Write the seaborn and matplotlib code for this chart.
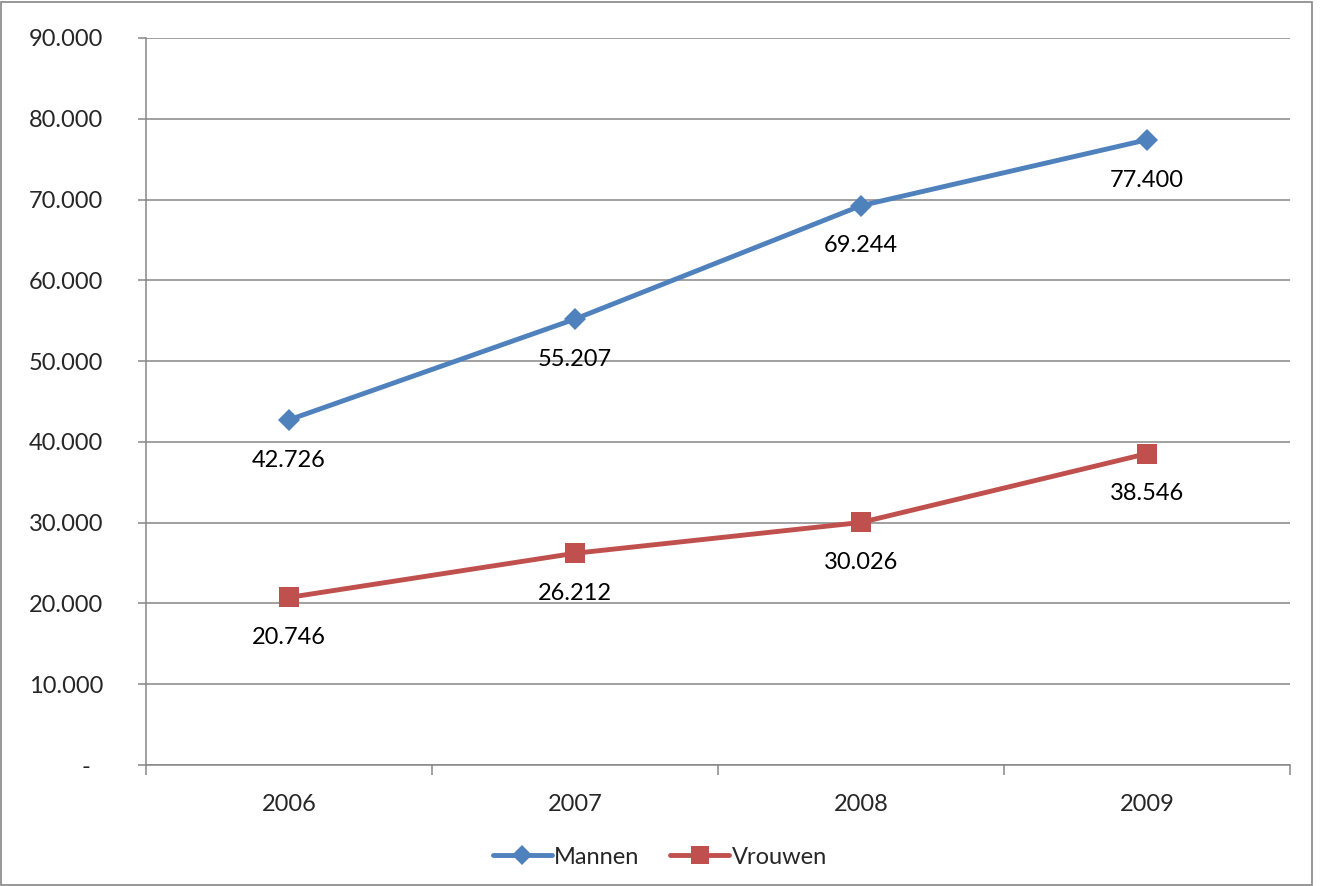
import matplotlib
matplotlib.use('Agg')
import matplotlib.pyplot as plt
import seaborn as sns
import pandas as pd
from matplotlib.patches import Rectangle
from matplotlib.lines import Line2D
from matplotlib.ticker import FuncFormatter

years = ['2006', '2007', '2008', '2009']
mannen = [42726, 55207, 69244, 77400]
vrouwen = [20746, 26212, 30026, 38546]

df = pd.DataFrame({
    'pos': list(range(len(years))) * 2,
    'waarde': mannen + vrouwen,
    'serie': ['Mannen'] * len(years) + ['Vrouwen'] * len(years),
})

sns.set_style('white')
plt.rcParams['font.family'] = ['Lato', 'DejaVu Sans']
fs = 17

fig = plt.figure(figsize=(13.2, 8.86), dpi=100)
ax = fig.add_axes([146 / 1320, 1 - 765 / 886, 1144 / 1320, 727 / 886])

kleuren = {'Mannen': '#4F81BD', 'Vrouwen': '#C0504D'}
sns.lineplot(data=df, x='pos', y='waarde', hue='serie', style='serie',
             palette=kleuren, markers={'Mannen': 'D', 'Vrouwen': 's'},
             dashes=False, linewidth=3.5, ax=ax, legend=False,
             markeredgewidth=0, zorder=3)
for line in ax.lines:
    if line.get_marker() == 'D':
        line.set_markersize(11)
    else:
        line.set_markersize(15)

# data labels below the points
for vals in [mannen, vrouwen]:
    for i, v in enumerate(vals):
        ax.annotate(f'{v:,}'.replace(',', '.'), (i, v), xytext=(0, -29),
                    textcoords='offset points', ha='center', va='center',
                    fontsize=fs, color='black')

ax.set_xlim(-0.5, len(years) - 0.5)
ax.set_ylim(0, 90000)
ax.set_yticks(range(0, 90001, 10000))
ax.yaxis.set_major_formatter(FuncFormatter(
    lambda v, p: '-  ' if v == 0 else f'{int(v):,}'.replace(',', '.')))
ax.set_xticks(range(len(years)))
ax.set_xticklabels(years)
ax.set_xticks([i - 0.5 for i in range(len(years) + 1)], minor=True)
ax.tick_params(axis='x', which='major', length=0, pad=21, labelsize=fs)
ax.tick_params(axis='x', which='minor', length=7, width=1.1, color='#868686',
               direction='out', bottom=True)
ax.tick_params(axis='y', length=6, width=1.1, color='#868686', pad=25,
               labelsize=fs, left=True)
ax.set_xlabel('')
ax.set_ylabel('')

ax.grid(axis='y', color='#868686', linewidth=1.1)
ax.set_axisbelow(True)
for s in ['top', 'right']:
    ax.spines[s].set_visible(False)
for s in ['left', 'bottom']:
    ax.spines[s].set_color('#868686')
    ax.spines[s].set_linewidth(1.1)

handles = [Line2D([], [], color=kleuren['Mannen'], lw=3.5, marker='D', ms=10,
                  markeredgewidth=0),
           Line2D([], [], color=kleuren['Vrouwen'], lw=3.5, marker='s', ms=13,
                  markeredgewidth=0)]
fig.legend(handles, ['Mannen', 'Vrouwen'], loc='center',
           bbox_to_anchor=(0.5, 1 - 857 / 886), ncol=2, frameon=False,
           fontsize=fs, handlelength=2.5, handletextpad=0.1, columnspacing=1.3)

fig.patches.append(Rectangle((0.001, 0.001), 1311 / 1320, 0.997,
                             transform=fig.transFigure, fill=False,
                             edgecolor='#868686', linewidth=1.2))

fig.savefig('out.png', dpi=100)
